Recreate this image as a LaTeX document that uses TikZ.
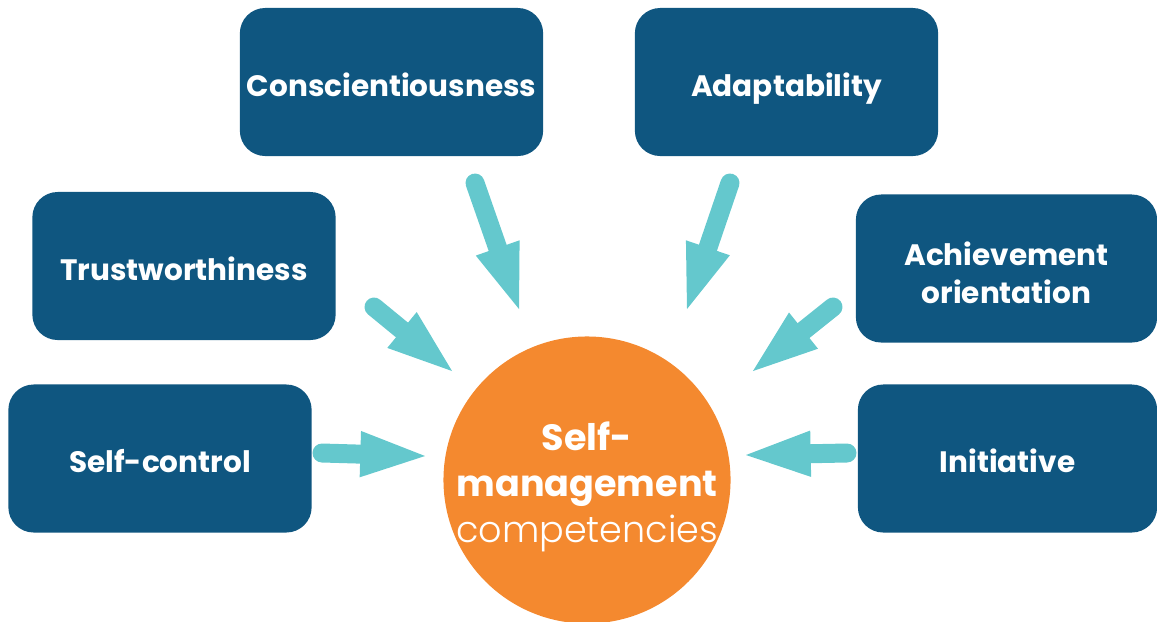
\documentclass[tikz,border=0pt]{standalone}
\usepackage{fontspec}
\setmainfont{Poppins}
\newfontfamily\lightfont{Poppins Light}
\usetikzlibrary{arrows.meta,positioning}
\definecolor{boxblue}{HTML}{0F5680}
\definecolor{feedteal}{HTML}{64C8CD}
\definecolor{coreorange}{HTML}{F4892F}

\begin{document}
\begin{tikzpicture}[
					x = 0.025cm, y = -0.025cm,
					every node/.style = {text = white, align = center, font = \bfseries\fontsize{21}{27}\selectfont},
					comp/.style = {fill = boxblue, rounded corners = 18pt, minimum width = 7.58cm, minimum height = 3.7cm, inner sep = 0pt, text height = 20.6pt, text depth = 0pt},
					feed/.style = {draw = feedteal, line width = 13.5pt, line cap = round, -{Triangle[length = 46pt, width = 33pt, line width = 0pt]}}
					]

					\useasboundingbox (0,0) rectangle (1157,621);

					% centre
					\node[circle, fill = coreorange, minimum size = 7.175cm, inner sep = 0pt] (core) at (587,480) {};
					\node[font = \bfseries\fontsize{26}{32.7}\selectfont] (core text) at (587,487) {Self-\\management\\{\lightfont\mdseries competencies}};

					% competencies
					\node[comp] (consc) at (391.5,82) {Conscientiousness};
					\node[comp] (adapt) at (786.5,82) {Adaptability};
					\node[comp] (trust) at (184,266) {Trustworthiness};
					\node[comp, minimum width = 7.53cm, text height = 50pt] (achieve) at (1006.5,268.5) {Achievement\\orientation};
					\node[comp] (selfctl) at (160,458.5) {Self-control};
					\node[comp, minimum width = 7.48cm] (initiative) at (1007.5,458.5) {Initiative};

					% arrows
					\coordinate (consc tail) at (475,183);
					\coordinate (consc tip) at (519,309);
					\coordinate (adapt tail) at (730,183);
					\coordinate (adapt tip) at (687,309);
					\coordinate (trust tail) at (374,307);
					\coordinate (trust tip) at (452,371);
					\coordinate (achieve tail) at (833,307);
					\coordinate (achieve tip) at (753,371);
					\coordinate (selfctl tail) at (322,453);
					\coordinate (selfctl tip) at (425,456);
					\coordinate (initiative tail) at (847,453);
					\coordinate (initiative tip) at (746,455);

					\foreach \from in {consc,adapt,trust,achieve,selfctl,initiative}
						\draw[feed] (\from\space tail) -- (\from\space tip);

				\end{tikzpicture}
\end{document}
